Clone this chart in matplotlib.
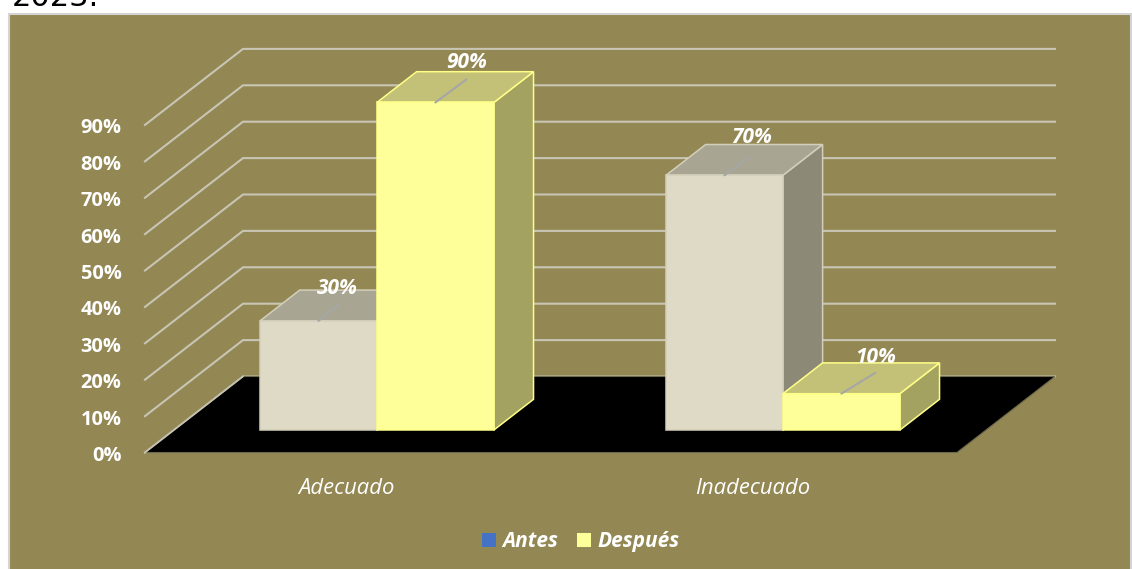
import matplotlib
matplotlib.use("Agg")
import matplotlib.pyplot as plt
from matplotlib.patches import Rectangle
from matplotlib.transforms import ScaledTranslation

categorias = ["Adecuado", "Inadecuado"]
series = ["Antes", "Después"]
antes = [30, 70]
despues = [90, 10]
ticks = [0, 10, 20, 30, 40, 50, 60, 70, 80, 90]
etiquetas_y = ["0%", "10%", "20%", "30%", "40%", "50%", "60%", "70%", "80%", "90%"]

# colores de cada cara: frente, arriba, lado, borde
col_antes = ("#DFDAC5", "#A8A692", "#8C8977", "#D3CFBA")
col_despues = ("#FFFF99", "#C2C177", "#A3A260", "#FFFF88")
fondo = "#938753"
rejilla = "#C8C5B4"

W, H = 1132, 569
# desplazamiento de toda la profundidad, en unidades de los ejes
PROF_X = 98 / 406
PROF_Y = 76 / 36.4 * 10
ANCHO = 0.288
BASE = 0.295   # donde empieza la barra en profundidad
FONDO_B = 0.70  # donde termina


def p(x, y, z):
    return x + z * PROF_X, y + z * PROF_Y


def caja(ax, x0, valor, colores, zo):
    x1 = x0 + ANCHO
    frente, arriba, lado, borde = colores
    cara_lado = [p(x1, 0, BASE), p(x1, 0, FONDO_B), p(x1, valor, FONDO_B), p(x1, valor, BASE)]
    cara_top = [p(x0, valor, BASE), p(x1, valor, BASE), p(x1, valor, FONDO_B), p(x0, valor, FONDO_B)]
    cara_frente = [p(x0, 0, BASE), p(x1, 0, BASE), p(x1, valor, BASE), p(x0, valor, BASE)]
    for cara, c in ((cara_lado, lado), (cara_top, arriba), (cara_frente, frente)):
        ax.fill(*zip(*cara), facecolor=c, edgecolor=borde, lw=1.1, zorder=zo, clip_on=False, joinstyle="miter")


plt.rcParams["font.family"] = ["Open Sans", "DejaVu Sans"]
fig = plt.figure(figsize=(W / 100, H / 100), dpi=100, facecolor="white")

fig.add_artist(Rectangle((8.5 / W, -0.01), (W - 10) / W, (H - 13.5) / H + 0.01, transform=fig.transFigure,
                         facecolor=fondo, edgecolor="#D4D4D4", lw=1.5, zorder=-1))
fig.text(12 / W, 1 - 6 / H, "2023.", fontsize=22, color="black", family="DejaVu Sans", va="baseline")

ax = fig.add_axes([145 / W, 1 - 452.5 / H, 812 / W, 327.6 / H])
ax.set_xlim(0, 2)
ax.set_ylim(0, 90)
ax.patch.set_visible(False)
for s in ax.spines.values():
    s.set_visible(False)

# rejilla: pared izquierda y pared del fondo
for t in ticks:
    xs, ys = zip(p(0, t, 0), p(0, t, 1), p(2, t, 1))
    ax.plot(xs, ys, color=rejilla, lw=1.5, zorder=1, clip_on=False, solid_joinstyle="miter")

# piso
piso = [p(0, 0, 0), p(2, 0, 0), p(2, 0, 1), p(0, 0, 1)]
ax.fill(*zip(*piso), facecolor="black", edgecolor="#6E6A50", lw=0.8, zorder=2, clip_on=False)
xs, ys = zip(p(0, 0, 0), p(0, 0, 1))
ax.plot(xs, ys, color=rejilla, lw=1.2, zorder=2, clip_on=False)

ax.set_xticks([0.497, 1.497], categorias, style="italic", fontsize=15.8, color="white")
ax.set_yticks(ticks, etiquetas_y, fontweight="bold", fontsize=14.4, color="white")
ax.tick_params(axis="x", length=0, pad=18.5)
ax.tick_params(axis="y", length=0, pad=17)
baja = ScaledTranslation(0, -1 / 100, fig.dpi_scale_trans)
for lab in ax.get_yticklabels():
    lab.set_transform(lab.get_transform() + baja)

# desplazamiento en pixeles: punta de la linea guia y centro del texto
guia = [(20, 16), (31, 23), (24, 18), (34, 21)]
texto = [(19, 32), (31, 40), (27, 38), (34, 36)]

zo = 3
for i in range(len(categorias)):
    x0 = i + 0.5 - ANCHO
    x1 = i + 0.5
    caja(ax, x0, antes[i], col_antes, zo)
    caja(ax, x1, despues[i], col_despues, zo + 1)
    zo += 2
    for j, (xb, v) in enumerate(((x0, antes[i]), (x1, despues[i]))):
        cx, cy = p(xb + ANCHO / 2, v, BASE)
        k = i * 2 + j
        ax.annotate("", xy=(cx, cy), xytext=guia[k], textcoords="offset pixels",
                    arrowprops=dict(arrowstyle="-", color="#A6A6A6", lw=1.5, shrinkA=0, shrinkB=0),
                    zorder=20, annotation_clip=False)
        ax.annotate(f"{v}%", xy=(cx, cy), xytext=texto[k], textcoords="offset pixels",
                    ha="center", va="center", color="white", fontsize=15, fontweight="bold",
                    style="italic", zorder=21, annotation_clip=False)

# leyenda
h = [Rectangle((0, 0), 1, 1, facecolor="#4472C4"), Rectangle((0, 0), 1, 1, facecolor="#FFFF99")]
fig.legend(h, series, loc="center", bbox_to_anchor=(581 / W, 1 - 541.5 / H), ncol=2, frameon=False,
           prop=dict(size=15, weight="bold", style="italic"), labelcolor="white",
           handlelength=0.68, handleheight=0.68, handletextpad=0.3, columnspacing=0.9)

fig.savefig("out.png", dpi=100, facecolor="white")
